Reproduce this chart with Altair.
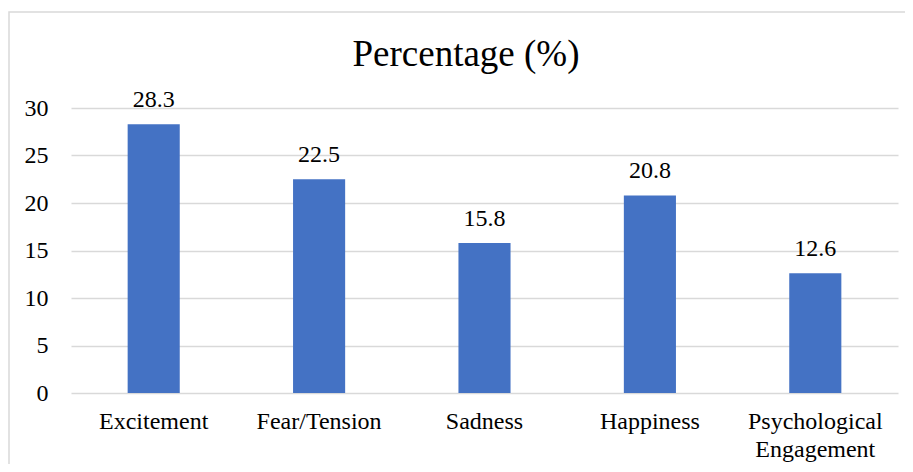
import altair as alt
import pandas as pd

categories = ["Excitement", "Fear/Tension", "Sadness", "Happiness", "Psychological Engagement"]
values = [28.3, 22.5, 15.8, 20.8, 12.6]
y_ticks = [0, 5, 10, 15, 20, 25, 30]
chart_title = "Percentage (%)"

df = pd.DataFrame({"category": categories, "value": values})
df["label"] = df["value"].map(lambda v: f"{v:.1f}")

FONT = "'Times New Roman', 'Liberation Serif', 'DejaVu Serif', serif"

x_enc = alt.X(
    "category:N",
    sort=categories,
    title=None,
    scale=alt.Scale(paddingInner=0.685, paddingOuter=0.3425),
    axis=alt.Axis(
        labelAngle=0,
        labelFont=FONT,
        labelFontSize=24,
        labelColor="#000000",
        labelPadding=16,
        labelLineHeight=28,
        labelExpr="split(datum.label, ' ')",
        domain=False,
        ticks=False,
        grid=False,
    ),
)
y_enc = alt.Y(
    "value:Q",
    title=None,
    scale=alt.Scale(domain=[0, 30], nice=False),
    axis=alt.Axis(
        values=y_ticks,
        labelFont=FONT,
        labelFontSize=24,
        labelColor="#000000",
        labelPadding=23,
        domain=False,
        ticks=False,
        grid=True,
        gridColor="#d9d9d9",
        gridWidth=1.3,
    ),
)

border = alt.Chart(pd.DataFrame({"a": [0]})).mark_rect(
    fill=None, stroke="#d9d9d9", strokeWidth=1.5, clip=False
).encode(
    x=alt.value(-62), x2=alt.value(860), y=alt.value(-96), y2=alt.value(400)
)

title = alt.Chart(pd.DataFrame({"t": [chart_title]})).mark_text(
    font=FONT, fontSize=37, color="#000000", baseline="alphabetic", align="center"
).encode(x=alt.value(395), y=alt.value(-42), text="t:N")

bars = alt.Chart(df).mark_bar(color="#4472C4").encode(x=x_enc, y=y_enc)

labels = alt.Chart(df).mark_text(
    font=FONT, fontSize=24, color="#000000", baseline="alphabetic", dy=-17
).encode(x=alt.X("category:N", sort=categories), y="value:Q", text="label:N")

chart = alt.layer(border, title, bars, labels).properties(
    width=827,
    height=285,
    padding={"left": 63, "top": 100, "right": 7, "bottom": 71},
    autosize=alt.AutoSizeParams(type="none"),
).configure_view(stroke=None)

chart.save("out.html", embed_options={"renderer": "svg", "actions": False})
